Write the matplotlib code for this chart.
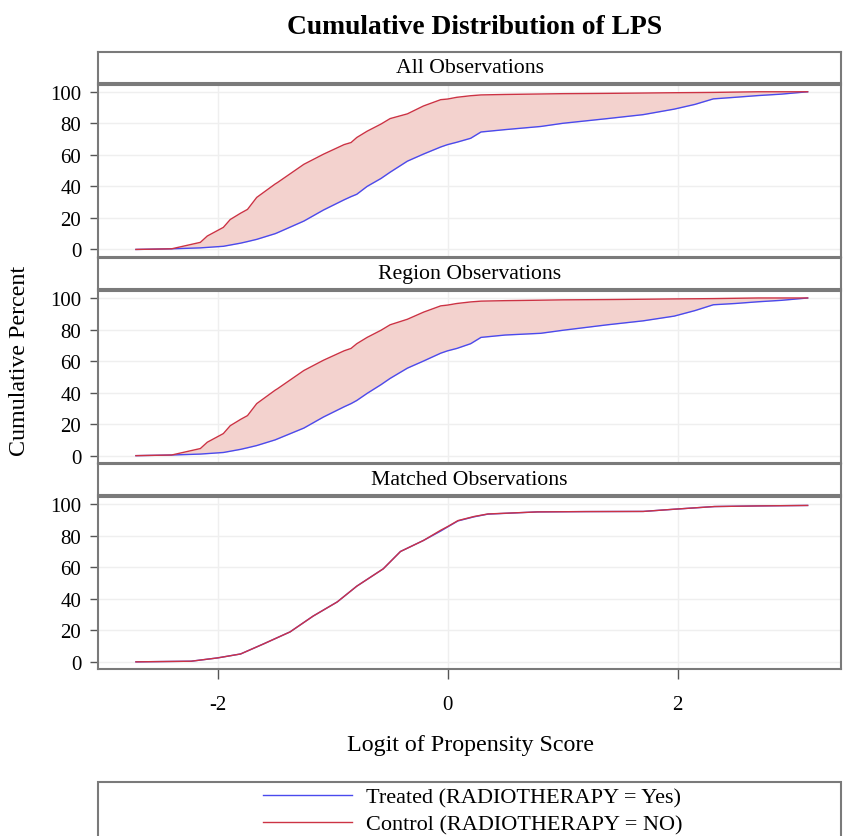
import matplotlib
matplotlib.use("Agg")
import matplotlib.pyplot as plt
from matplotlib.patches import Rectangle

plt.rcParams['font.family'] = ['Liberation Serif', 'DejaVu Serif']
plt.rcParams['axes.unicode_minus'] = False

# logit of propensity score grid
x_all = [-2.71, -2.4, -2.15, -2.09, -1.95, -1.89, -1.8, -1.74, -1.66, -1.5, -1.48, -1.25,
         -1.08, -0.9, -0.84, -0.79, -0.7, -0.58, -0.5, -0.35, -0.21, -0.06, 0.0, 0.08,
         0.2, 0.29, 0.5, 0.81, 1.0, 1.39, 1.7, 1.97, 2.15, 2.31, 2.5, 2.7, 2.9, 3.13]

treated_all = [0, 0.4, 1, 1.3, 2, 2.8, 4, 5, 6.4, 10, 10.6, 18,
               25, 31.5, 33.5, 35, 40, 45, 49, 56, 60.5, 65, 66.5, 68,
               70.5, 74.5, 76, 78, 80, 83, 85.5, 89, 92, 95.5, 96.5, 97.6, 98.5, 100]
control_all = [0, 0.4, 4.5, 8.5, 14, 19, 23, 25.4, 33, 41.5, 42.4, 54,
               60.4, 66.5, 67.8, 71, 75, 79.5, 83, 86, 91, 95, 95.4, 96.5,
               97.5, 98, 98.3, 98.6, 98.8, 99, 99.2, 99.4, 99.5, 99.6, 99.8, 100, 100, 100]

treated_region = [0, 0.4, 1, 1.3, 2, 2.8, 4, 5, 6.4, 10, 10.6, 17.5,
                  24.5, 31, 33, 35, 39.5, 45, 49, 55.5, 60, 65, 66.5, 68,
                  71, 75, 76.5, 77.6, 79.5, 83, 85.5, 88.5, 92, 95.7, 96.5, 97.6, 98.5, 100]
control_region = [0, 0.4, 4.5, 8.5, 14, 19, 23, 25.4, 33, 41.5, 42.4, 54,
                  60.5, 66.5, 68, 71, 75, 79.5, 83, 86.5, 91, 95, 95.5, 96.5,
                  97.5, 98, 98.3, 98.6, 98.8, 99, 99.2, 99.4, 99.5, 99.6, 99.8, 100, 100, 100]

x_matched = [-2.71, -2.23, -2.0, -1.8, -1.6, -1.37, -1.17, -0.96, -0.79, -0.56, -0.41,
             -0.21, -0.06, 0.0, 0.09, 0.23, 0.35, 0.78, 1.2, 1.7, 1.97, 2.32, 2.7, 3.13]
treated_matched = [0, 0.4, 2.5, 5, 11.4, 19, 29, 38, 48, 59, 70,
                   77, 83, 85.6, 89.4, 92, 93.7, 95.1, 95.3, 95.4, 96.8, 98.5, 98.9, 99.2]
control_matched = [0, 0.4, 2.5, 5, 11.4, 19, 29, 38, 48, 59, 70,
                   77, 83.5, 85.8, 89.6, 92.2, 93.8, 95.1, 95.3, 95.4, 96.8, 98.5, 98.9, 99.2]

panels = [
    ("All Observations", x_all, treated_all, control_all),
    ("Region Observations", x_all, treated_region, control_region),
    ("Matched Observations", x_matched, treated_matched, control_matched),
]

W, H = 849, 837
fig = plt.figure(figsize=(W / 100, H / 100), dpi=100)

left = 98 / W
width = (841 - 98) / W
edge = '#7a7a7a'

for i, (name, xs, tr, ct) in enumerate(panels):
    top = 52.7 + 206.2 * i
    # header strip
    hax = fig.add_axes([left, 1 - (top + 31) / H, width, 31 / H])
    hax.set_xticks([])
    hax.set_yticks([])
    for s in hax.spines.values():
        s.set_color(edge)
        s.set_linewidth(1.5)
    hax.text(0.5, 0.5, name, ha='center', va='center', fontsize=15.7, transform=hax.transAxes)

    ptop = top + 33.3
    ax = fig.add_axes([left, 1 - (ptop + 171.7) / H, width, 171.7 / H])
    ax.fill_between(xs, tr, ct, color='#f3d2ce', lw=0)
    lt, = ax.plot(xs, tr, color='#4a4aee', lw=1.0)
    lc, = ax.plot(xs, ct, color='#cc3344', lw=1.0)
    ax.set_xlim(-3.04, 3.42)
    ax.set_ylim(-4.6, 104.3)
    ax.set_yticks([0, 20, 40, 60, 80, 100])
    ax.set_xticks([-2, 0, 2])
    ax.grid(True, color='#efefef', lw=1)
    ax.set_axisbelow(True)
    for s in ax.spines.values():
        s.set_color(edge)
        s.set_linewidth(1.5)
    ax.tick_params(axis='y', direction='out', length=6, width=1, color='#555555',
                   labelsize=15, pad=6)
    ax.tick_params(axis='x', direction='out', length=7, width=1, color='#555555',
                   labelsize=15, pad=12)
    if i < 2:
        ax.tick_params(axis='x', length=0, labelbottom=False)

fig.text(475 / W, 1 - 28 / H, "Cumulative Distribution of LPS", ha='center', va='center',
         fontsize=19.8, fontweight='bold')
fig.text(470 / W, 1 - 746 / H, "Logit of Propensity Score", ha='center', va='center',
         fontsize=17.3)
fig.text(20 / W, 1 - 361 / H, "Cumulative Percent", ha='center', va='center',
         rotation=90, fontsize=17.3)

# legend box (runs off the bottom edge)
fig.patches.append(Rectangle((left, -0.02), width, (837 - 782.7) / H + 0.02,
                             transform=fig.transFigure, fill=False,
                             edgecolor=edge, lw=1.5))
fig.legend([lt, lc], ["Treated (RADIOTHERAPY = Yes)", "Control (RADIOTHERAPY = NO)"],
           loc='upper left', bbox_to_anchor=(263 / W, 1 - 788 / H), frameon=False,
           fontsize=16, handlelength=4.0, handletextpad=0.65, borderpad=0,
           borderaxespad=0, labelspacing=0.3)

fig.savefig("out.png", dpi=100)
